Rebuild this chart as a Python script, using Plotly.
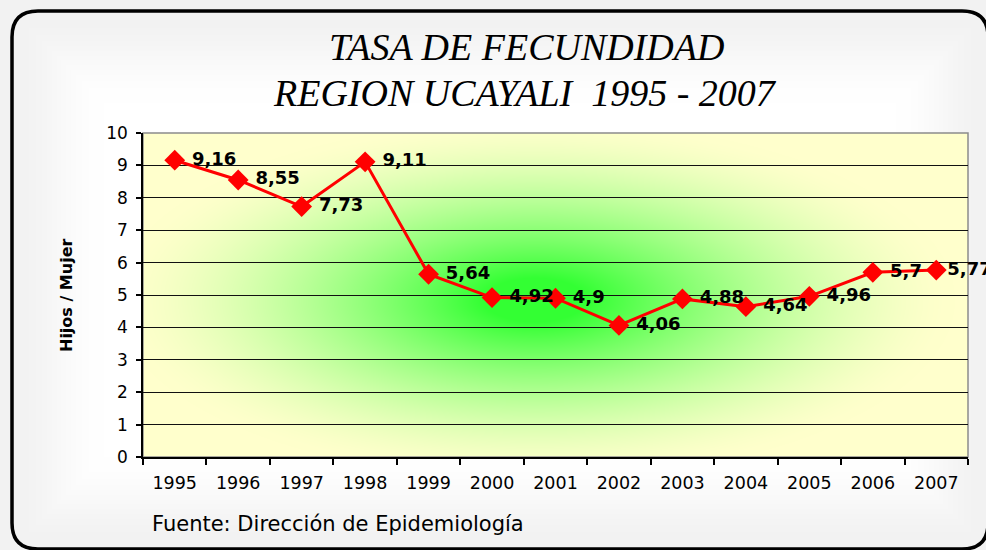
import base64
import struct
import zlib

import numpy as np
import plotly.graph_objects as go

# ---------------- data ----------------
years = ["1995", "1996", "1997", "1998", "1999", "2000", "2001",
         "2002", "2003", "2004", "2005", "2006", "2007"]
tasa = [9.16, 8.55, 7.73, 9.11, 5.64, 4.92, 4.90, 4.06, 4.88, 4.64, 4.96, 5.70, 5.77]
labels = ["9,16", "8,55", "7,73", "9,11", "5,64", "4,92", "4,9",
          "4,06", "4,88", "4,64", "4,96", "5,7", "5,77"]
y_ticks = list(range(0, 11))

title_1 = "TASA DE FECUNDIDAD"
title_2 = "REGION UCAYALI  1995 - 2007"
y_title = "Hijos / Mujer"
source = "Fuente: Dirección de Epidemiología"

# ---------------- layout geometry (pixels) ----------------
W, H = 986, 550
L, R, T, B = 143, 18, 133, 93
PW, PH = W - L - R, H - T - B


def px_x(px):
    return (px - L) / PW


def px_y(py):
    return (H - B - py) / PH


def png_uri(arr):
    h, w, _ = arr.shape
    raw = b"".join(b"\x00" + arr[j].tobytes() for j in range(h))

    def chunk(tag, data):
        return (struct.pack(">I", len(data)) + tag + data +
                struct.pack(">I", zlib.crc32(tag + data) & 0xFFFFFFFF))

    png = (b"\x89PNG\r\n\x1a\n" +
           chunk(b"IHDR", struct.pack(">IIBBBBB", w, h, 8, 2, 0, 0, 0)) +
           chunk(b"IDAT", zlib.compress(raw, 9)) +
           chunk(b"IEND", b""))
    return "data:image/png;base64," + base64.b64encode(png).decode()


# radial green -> light-yellow gradient for the plot area
gx, gy = np.meshgrid(np.arange(PW) + 0.5, np.arange(PH) + 0.5)
cx, cy = 535 - L, 300 - T
t = np.sqrt(((gx - cx) / 420.0) ** 2 + ((gy - cy) / 180.0) ** 2)
t = np.clip((t - 0.12) / 0.88, 0, 1)
f = 1 - (1 - t) ** 1.6
green = np.array([0x33, 0xFF, 0x33], float)
yellow = np.array([0xFF, 0xFF, 0xCC], float)
grad = green[None, None, :] * (1 - f[..., None]) + yellow[None, None, :] * f[..., None]
plot_bg = png_uri(np.clip(grad, 0, 255).astype(np.uint8))

# soft grey glow inside the outer frame
fx, fy = np.meshgrid(np.arange(W) + 0.5, np.arange(H) + 0.5)
d = np.minimum.reduce([fx - 14, fy - 13, 986 - fx, 547 - fy])
d = np.clip(d, 0, None)
s = np.clip(d / 90.0, 0, 1)
s = s * s * (3 - 2 * s)
grey = 242 + 13 * s
fig_bg = png_uri(np.repeat(grey[..., None], 3, axis=2).astype(np.uint8))

# ---------------- figure ----------------
templates = ["\u00a0%{text}"] * (len(labels) - 1) + ["%{text}"]

fig = go.Figure()
fig.add_trace(go.Scatter(
    x=years, y=tasa, mode="lines+markers+text",
    text=labels, texttemplate=templates, textposition="middle right",
    textfont=dict(family="DejaVu Sans", size=18, color="black", weight="bold"),
    line=dict(color="#FF0000", width=3),
    marker=dict(symbol="diamond", size=16, color="#FF0000"),
    cliponaxis=False, showlegend=False, hoverinfo="skip",
))

# rounded outer frame
x0, y0, x1, y1, rr = 12, 11, 988, 549, 26
path = (f"M {px_x(x0 + rr)} {px_y(y0)} L {px_x(x1 - rr)} {px_y(y0)} "
        f"Q {px_x(x1)} {px_y(y0)} {px_x(x1)} {px_y(y0 + rr)} "
        f"L {px_x(x1)} {px_y(y1 - rr)} "
        f"Q {px_x(x1)} {px_y(y1)} {px_x(x1 - rr)} {px_y(y1)} "
        f"L {px_x(x0 + rr)} {px_y(y1)} "
        f"Q {px_x(x0)} {px_y(y1)} {px_x(x0)} {px_y(y1 - rr)} "
        f"L {px_x(x0)} {px_y(y0 + rr)} "
        f"Q {px_x(x0)} {px_y(y0)} {px_x(x0 + rr)} {px_y(y0)} Z")

fig.update_layout(
    width=W, height=H,
    margin=dict(l=L, r=R, t=T, b=B),
    paper_bgcolor="white",
    plot_bgcolor="rgba(0,0,0,0)",
    font=dict(family="DejaVu Sans", color="black"),
    images=[
        dict(source=fig_bg, xref="paper", yref="paper",
             x=px_x(0), y=px_y(0), sizex=W / PW, sizey=H / PH,
             xanchor="left", yanchor="top", sizing="stretch", layer="below"),
        dict(source=plot_bg, xref="paper", yref="paper",
             x=0, y=1, sizex=1, sizey=1,
             xanchor="left", yanchor="top", sizing="stretch", layer="below"),
    ],
    shapes=[
        dict(type="path", path=path, xref="paper", yref="paper",
             line=dict(color="black", width=3.5), layer="below"),
        dict(type="rect", xref="paper", yref="paper", x0=0, x1=1, y0=0, y1=1,
             line=dict(color="#8c8c8c", width=1.5), layer="below"),
    ],
    xaxis=dict(
        type="category", categoryorder="array", categoryarray=years,
        range=[-0.5, len(years) - 0.5],
        tickson="boundaries", ticks="outside", ticklen=6, tickwidth=1.5,
        tickcolor="black", showline=True, linecolor="black", linewidth=1.5,
        showgrid=False, tickfont=dict(size=17.5, family="DejaVu Sans"),
        ticklabelstandoff=9, fixedrange=True,
    ),
    yaxis=dict(
        range=[0, 10], tickvals=y_ticks, ticks="outside", ticklen=5,
        tickwidth=1.5, tickcolor="black", showline=True, linecolor="black",
        linewidth=1.5, showgrid=True, gridcolor="#111111", gridwidth=1.3,
        zeroline=False, tickfont=dict(size=17, family="DejaVu Sans"),
        ticklabelstandoff=5, fixedrange=True,
    ),
    annotations=[
        dict(text=title_1, xref="paper", yref="paper", x=px_x(526), y=px_y(47),
             xanchor="center", yanchor="middle", showarrow=False,
             font=dict(family="Liberation Serif", size=38, style="italic")),
        dict(text=title_2, xref="paper", yref="paper", x=px_x(525), y=px_y(93),
             xanchor="center", yanchor="middle", showarrow=False,
             font=dict(family="Liberation Serif", size=38, style="italic")),
        dict(text="<b>" + y_title + "</b>", xref="paper", yref="paper",
             x=px_x(66), y=px_y(295), xanchor="center", yanchor="middle",
             textangle=-90, showarrow=False,
             font=dict(family="DejaVu Sans", size=16)),
        dict(text=source, xref="paper", yref="paper", x=px_x(150), y=px_y(524),
             xanchor="left", yanchor="middle", showarrow=False,
             font=dict(family="DejaVu Sans", size=21)),
    ],
)

fig.write_html(
    "out.html",
    config={"displayModeBar": False},
    post_script="document.body.style.margin='0';document.body.style.overflow='hidden';",
)
